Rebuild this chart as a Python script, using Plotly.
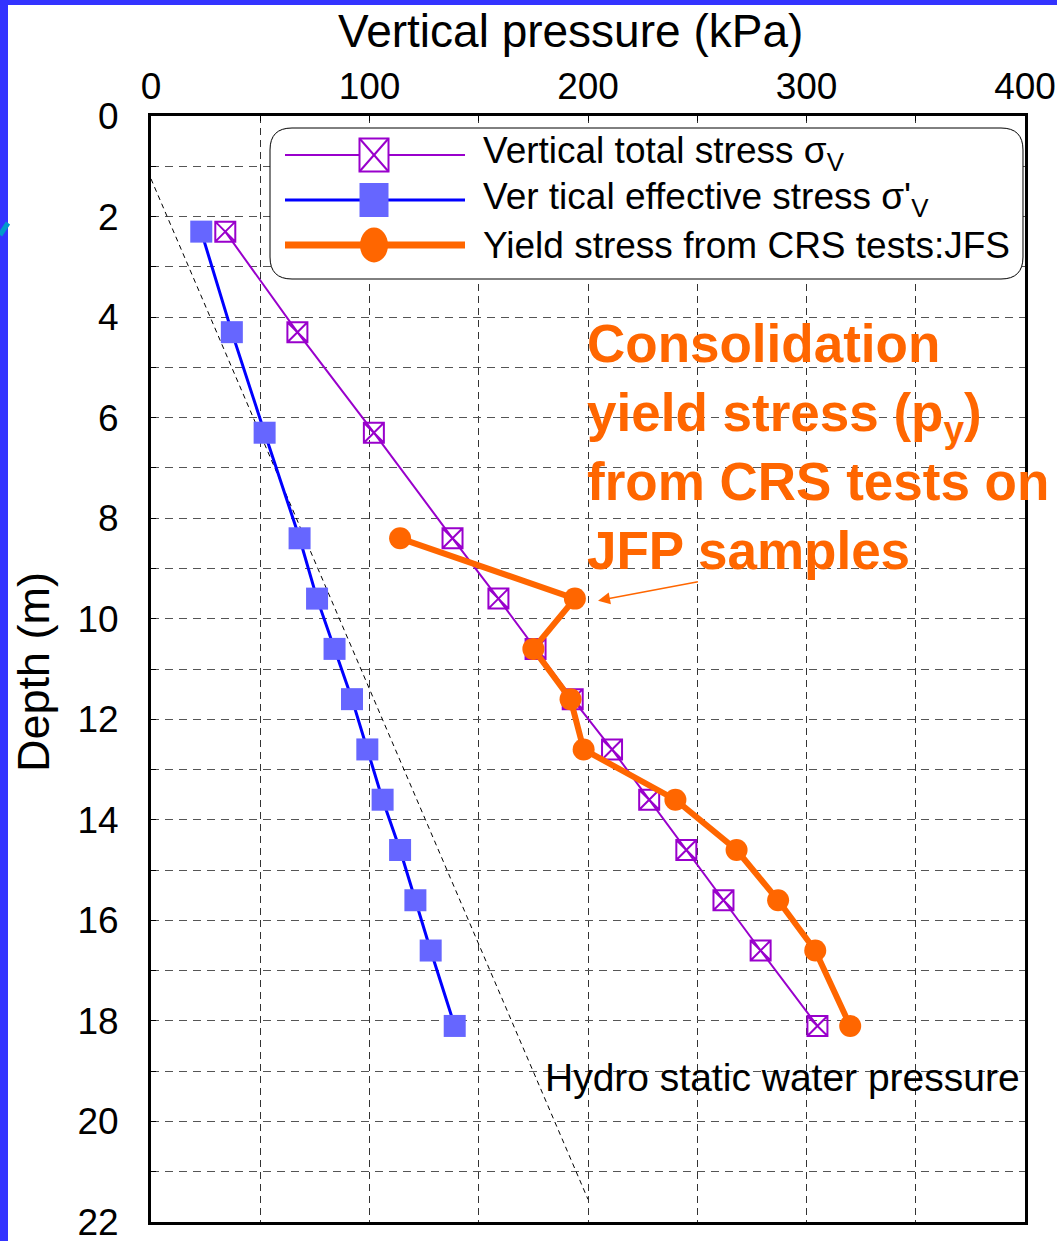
import plotly.graph_objects as go

# ---------------- data ----------------
depth_stress = [2.3, 4.3, 6.3, 8.4, 9.6, 10.6, 11.6, 12.6, 13.6, 14.6, 15.6, 16.6, 18.1]
total_stress = [34, 67, 102, 138, 159, 176, 193, 211, 228, 245, 262, 279, 305]
effective_stress = [23, 37, 52, 68, 76, 84, 92, 99, 106, 114, 121, 128, 139]

depth_yield = [8.4, 9.6, 10.6, 11.6, 12.6, 13.6, 14.6, 15.6, 16.6, 18.1]
yield_stress = [114, 194, 175, 192, 198, 240, 268, 287, 304, 320]

hydro_depth = [1.25, 21.55]
hydro_pressure = [0, 200]

x_tickvals = [0, 50, 100, 150, 200, 250, 300, 350, 400]
x_ticktext = ["0", "", "100", "", "200", "", "300", "", "400"]
y_tickvals = list(range(0, 23))
y_ticktext = [str(v) if v % 2 == 0 else "" for v in y_tickvals]

# ---------------- layout helpers ----------------
W, H = 1057, 1241
L, R, T, B = 151, 1025, 116, 1222
FONT = "Liberation Sans, Arial, sans-serif"
PURPLE = "#9900CC"
BLUE_LINE = "#0000FF"
BLUE_MARK = "#6666FF"
ORANGE = "#FF6600"


def px2x(px):
    return (px - L) / (R - L)


def px2y(py):
    return (B - py) / (B - T)


def P(px, py):
    return f"{px2x(px):.5f},{px2y(py):.5f}"


fig = go.Figure()

fig.add_trace(go.Scatter(
    x=hydro_pressure, y=hydro_depth, mode="lines",
    line=dict(color="black", width=1, dash="5px,4px"), showlegend=False))

fig.add_trace(go.Scatter(
    x=effective_stress, y=depth_stress, mode="lines+markers",
    line=dict(color=BLUE_LINE, width=3),
    marker=dict(symbol="square", size=22, color=BLUE_MARK, line=dict(width=0)),
    showlegend=False))

fig.add_trace(go.Scatter(
    x=total_stress, y=depth_stress, mode="lines+markers",
    line=dict(color=PURPLE, width=2),
    marker=dict(symbol="square-x-open", size=20, color=PURPLE, line=dict(width=2, color=PURPLE)),
    showlegend=False))

fig.add_trace(go.Scatter(
    x=yield_stress, y=depth_yield, mode="lines+markers",
    line=dict(color=ORANGE, width=6),
    marker=dict(symbol="circle", size=22, color=ORANGE, line=dict(width=0)),
    showlegend=False))

shapes = []
# slide border
shapes.append(dict(type="rect", xref="paper", yref="paper", layer="above",
                   x0=px2x(0), x1=px2x(W), y0=px2y(0), y1=px2y(5),
                   fillcolor="#3333FF", line=dict(width=0)))
shapes.append(dict(type="rect", xref="paper", yref="paper", layer="above",
                   x0=px2x(0), x1=px2x(8), y0=px2y(0), y1=px2y(H),
                   fillcolor="#3333FF", line=dict(width=0)))
shapes.append(dict(type="line", xref="paper", yref="paper", layer="above",
                   x0=px2x(0), y0=px2y(235), x1=px2x(8), y1=px2y(223),
                   line=dict(color="#0099CC", width=5)))

# legend box (rounded)
x0, x1, y0, y1, r = 270, 1023, 128, 279, 22
path = (f"M {P(x0 + r, y0)} L {P(x1 - r, y0)} Q {P(x1, y0)} {P(x1, y0 + r)} "
        f"L {P(x1, y1 - r)} Q {P(x1, y1)} {P(x1 - r, y1)} L {P(x0 + r, y1)} "
        f"Q {P(x0, y1)} {P(x0, y1 - r)} L {P(x0, y0 + r)} Q {P(x0, y0)} {P(x0 + r, y0)} Z")
shapes.append(dict(type="path", xref="paper", yref="paper", layer="above", path=path,
                   fillcolor="white", line=dict(color="black", width=1)))

rows = [155, 200, 245]
mx = 374
hs = 14.5
# purple row
shapes.append(dict(type="line", xref="paper", yref="paper", layer="above",
                   x0=px2x(285), x1=px2x(465), y0=px2y(rows[0]), y1=px2y(rows[0]),
                   line=dict(color=PURPLE, width=2)))
shapes.append(dict(type="rect", xref="paper", yref="paper", layer="above",
                   x0=px2x(mx - hs), x1=px2x(mx + hs), y0=px2y(rows[0] - hs - 2), y1=px2y(rows[0] + hs + 2),
                   fillcolor="white", line=dict(color=PURPLE, width=2)))
shapes.append(dict(type="line", xref="paper", yref="paper", layer="above",
                   x0=px2x(mx - hs), x1=px2x(mx + hs), y0=px2y(rows[0] - hs - 2), y1=px2y(rows[0] + hs + 2),
                   line=dict(color=PURPLE, width=2)))
shapes.append(dict(type="line", xref="paper", yref="paper", layer="above",
                   x0=px2x(mx - hs), x1=px2x(mx + hs), y0=px2y(rows[0] + hs + 2), y1=px2y(rows[0] - hs - 2),
                   line=dict(color=PURPLE, width=2)))
# blue row
shapes.append(dict(type="line", xref="paper", yref="paper", layer="above",
                   x0=px2x(285), x1=px2x(465), y0=px2y(rows[1]), y1=px2y(rows[1]),
                   line=dict(color=BLUE_LINE, width=3)))
shapes.append(dict(type="rect", xref="paper", yref="paper", layer="above",
                   x0=px2x(mx - hs), x1=px2x(mx + hs), y0=px2y(rows[1] - 17), y1=px2y(rows[1] + 17),
                   fillcolor=BLUE_MARK, line=dict(width=0)))
# orange row
shapes.append(dict(type="line", xref="paper", yref="paper", layer="above",
                   x0=px2x(285), x1=px2x(465), y0=px2y(rows[2]), y1=px2y(rows[2]),
                   line=dict(color=ORANGE, width=7)))
shapes.append(dict(type="circle", xref="paper", yref="paper", layer="above",
                   x0=px2x(mx - 14), x1=px2x(mx + 14), y0=px2y(rows[2] - 17.5), y1=px2y(rows[2] + 17.5),
                   fillcolor=ORANGE, line=dict(width=0)))

legend_texts = ["Vertical total stress σ<sub>V</sub>",
                "Ver tical effective stress σ'<sub>V</sub>",
                "Yield stress from CRS tests:JFS"]
annotations = []
for txt, ry in zip(legend_texts, [153, 199, 245]):
    annotations.append(dict(xref="paper", yref="paper", x=px2x(481), y=px2y(ry),
                            xanchor="left", yanchor="middle", showarrow=False, text=txt,
                            font=dict(family=FONT, size=37, color="black")))

# titles
annotations.append(dict(xref="paper", yref="paper", x=px2x(570), y=px2y(31),
                        xanchor="center", yanchor="middle", showarrow=False,
                        text="Vertical pressure (kPa)", font=dict(family=FONT, size=46, color="black")))
annotations.append(dict(xref="paper", yref="paper", x=px2x(33), y=px2y(672),
                        xanchor="center", yanchor="middle", showarrow=False, textangle=-90,
                        text="Depth (m)", font=dict(family=FONT, size=45, color="black")))

# callout text
annotations.append(dict(xref="paper", yref="paper", x=px2x(585), y=px2y(447),
                        xanchor="left", yanchor="middle", showarrow=False, align="left",
                        text="Consolidation<br>yield stress (p<sub>y</sub>)<br>from CRS tests on<br>JFP samples",
                        font=dict(family=FONT, size=53, color=ORANGE, weight="bold")))
# arrow
annotations.append(dict(xref="x", yref="y", axref="x", ayref="y",
                        x=204.6, y=9.64, ax=251, ay=9.26, text="", showarrow=True,
                        arrowhead=2, arrowsize=1.6, arrowwidth=1.5, arrowcolor=ORANGE))
# hydrostatic label
annotations.append(dict(xref="x", yref="y", x=398.5, y=19.12,
                        xanchor="right", yanchor="middle", showarrow=False,
                        text="Hydro static water pressure",
                        font=dict(family=FONT, size=39, color="black")))

fig.update_layout(
    width=W, height=H,
    margin=dict(l=L, r=W - R, t=T, b=H - B, autoexpand=False),
    paper_bgcolor="white", plot_bgcolor="white",
    font=dict(family=FONT, color="black"),
    shapes=shapes, annotations=annotations,
    showlegend=False,
)

fig.update_xaxes(
    side="top", range=[0, 400], tickvals=x_tickvals, ticktext=x_ticktext,
    ticks="inside", ticklen=5, tickcolor="black", tickwidth=1,
    showline=True, linecolor="black", linewidth=3, mirror=True,
    showgrid=True, gridcolor="#333333", gridwidth=1, griddash="7px,5px",
    zeroline=False, tickfont=dict(size=37, family=FONT, color="black"),
    ticklabelstandoff=-1, automargin=False, ticklabeloverflow="allow",
)
fig.update_yaxes(
    range=[22, 0], tickvals=y_tickvals, ticktext=y_ticktext,
    ticks="inside", ticklen=5, tickcolor="black", tickwidth=1,
    showline=True, linecolor="black", linewidth=3, mirror=True,
    showgrid=True, gridcolor="#555555", gridwidth=1, griddash="8px,6px",
    zeroline=False, tickfont=dict(size=37, family=FONT, color="black"),
    ticklabelstandoff=22, automargin=False, ticklabeloverflow="allow",
)

fig.write_html("out.html")
